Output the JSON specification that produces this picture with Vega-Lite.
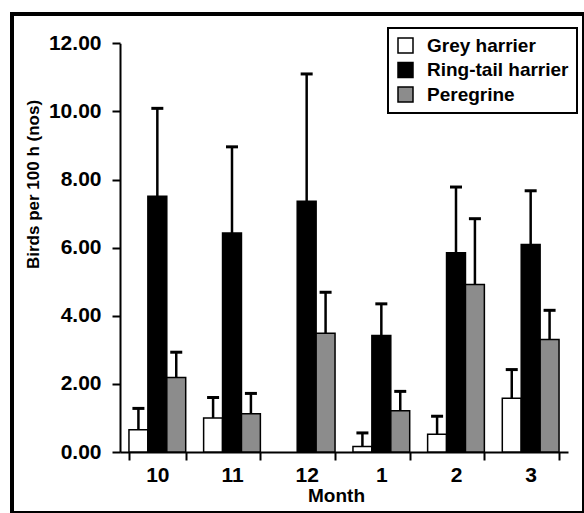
{
  "$schema": "https://vega.github.io/schema/vega-lite/v6.json",
  "autosize": "none",
  "padding": {"left": 12, "top": 14, "right": 0, "bottom": 0},
  "width": 572,
  "height": 499,
  "background": "white",
  "data": {
    "values": [
      {"month": "10", "species": "Grey harrier", "birds": 0.65, "upper": 1.28},
      {"month": "10", "species": "Ring-tail harrier", "birds": 7.51, "upper": 10.09},
      {"month": "10", "species": "Peregrine", "birds": 2.19, "upper": 2.93},
      {"month": "11", "species": "Grey harrier", "birds": 1.0, "upper": 1.6},
      {"month": "11", "species": "Ring-tail harrier", "birds": 6.43, "upper": 8.96},
      {"month": "11", "species": "Peregrine", "birds": 1.12, "upper": 1.72},
      {"month": "12", "species": "Ring-tail harrier", "birds": 7.36, "upper": 11.1},
      {"month": "12", "species": "Peregrine", "birds": 3.49, "upper": 4.69},
      {"month": "1", "species": "Grey harrier", "birds": 0.16, "upper": 0.56},
      {"month": "1", "species": "Ring-tail harrier", "birds": 3.42, "upper": 4.35},
      {"month": "1", "species": "Peregrine", "birds": 1.21, "upper": 1.78},
      {"month": "2", "species": "Grey harrier", "birds": 0.52, "upper": 1.05},
      {"month": "2", "species": "Ring-tail harrier", "birds": 5.85, "upper": 7.78},
      {"month": "2", "species": "Peregrine", "birds": 4.92, "upper": 6.85},
      {"month": "3", "species": "Grey harrier", "birds": 1.58, "upper": 2.42},
      {"month": "3", "species": "Ring-tail harrier", "birds": 6.09, "upper": 7.67},
      {"month": "3", "species": "Peregrine", "birds": 3.3, "upper": 4.16}
    ]
  },
  "encoding": {
    "x": {
      "field": "month",
      "type": "nominal",
      "sort": ["10", "11", "12", "1", "2", "3"],
      "scale": {"range": [108, 556], "paddingInner": 0.24, "paddingOuter": 0.12},
      "axis": {
        "title": "Month",
        "labelAngle": 0,
        "offset": -61,
        "tickBand": "extent",
        "labelPadding": 4,
        "titlePadding": 1,
        "titleX": 324
      }
    },
    "xOffset": {
      "field": "species",
      "type": "nominal",
      "sort": ["Grey harrier", "Ring-tail harrier", "Peregrine"],
      "scale": {"paddingInner": 0, "paddingOuter": 0}
    }
  },
  "layer": [
    {
      "mark": {"type": "bar", "stroke": "black", "strokeWidth": 1.5, "clip": false},
      "encoding": {
        "y": {
          "field": "birds",
          "type": "quantitative",
          "title": "Birds per 100 h (nos)",
          "scale": {"domain": [0, 12], "range": [438, 29.3], "nice": false},
          "axis": {
            "values": [0, 2, 4, 6, 8, 10, 12],
            "format": ".2f",
            "offset": -108,
            "labelPadding": 11,
            "titlePadding": 6,
            "titleFontSize": 17,
            "titleY": 170
          }
        },
        "color": {
          "field": "species",
          "type": "nominal",
          "scale": {
            "domain": ["Grey harrier", "Ring-tail harrier", "Peregrine"],
            "range": ["#ffffff", "#000000", "#8c8c8c"]
          },
          "legend": {"title": null}
        }
      }
    },
    {
      "mark": {"type": "rule", "color": "black", "strokeWidth": 2.5},
      "encoding": {
        "y": {"field": "birds", "type": "quantitative", "title": "Birds per 100 h (nos)"},
        "y2": {"field": "upper"}
      }
    },
    {
      "mark": {"type": "tick", "color": "black", "size": 12, "thickness": 3, "opacity": 1},
      "encoding": {
        "y": {"field": "upper", "type": "quantitative", "title": "Birds per 100 h (nos)"}
      }
    }
  ],
  "config": {
    "view": {"stroke": "black", "strokeWidth": 4},
    "font": "Liberation Sans",
    "axis": {
      "grid": false,
      "domainColor": "black",
      "domainWidth": 2,
      "tickColor": "black",
      "tickWidth": 2,
      "tickSize": 8,
      "labelColor": "black",
      "labelFont": "Liberation Sans",
      "labelFontWeight": "bold",
      "labelFontSize": 21,
      "titleColor": "black",
      "titleFont": "Liberation Sans",
      "titleFontWeight": "bold",
      "titleFontSize": 19
    },
    "legend": {
      "orient": "none",
      "legendX": 376,
      "legendY": 14,
      "padding": 8,
      "strokeColor": "black",
      "strokeWidth": 2,
      "fillColor": "white",
      "labelFont": "Liberation Sans",
      "labelFontWeight": "bold",
      "labelFontSize": 19,
      "labelColor": "black",
      "labelOffset": 12,
      "rowPadding": 3.5,
      "symbolType": "square",
      "symbolSize": 225,
      "symbolStrokeColor": "black",
      "symbolStrokeWidth": 1.5,
      "symbolOpacity": 1
    }
  }
}
